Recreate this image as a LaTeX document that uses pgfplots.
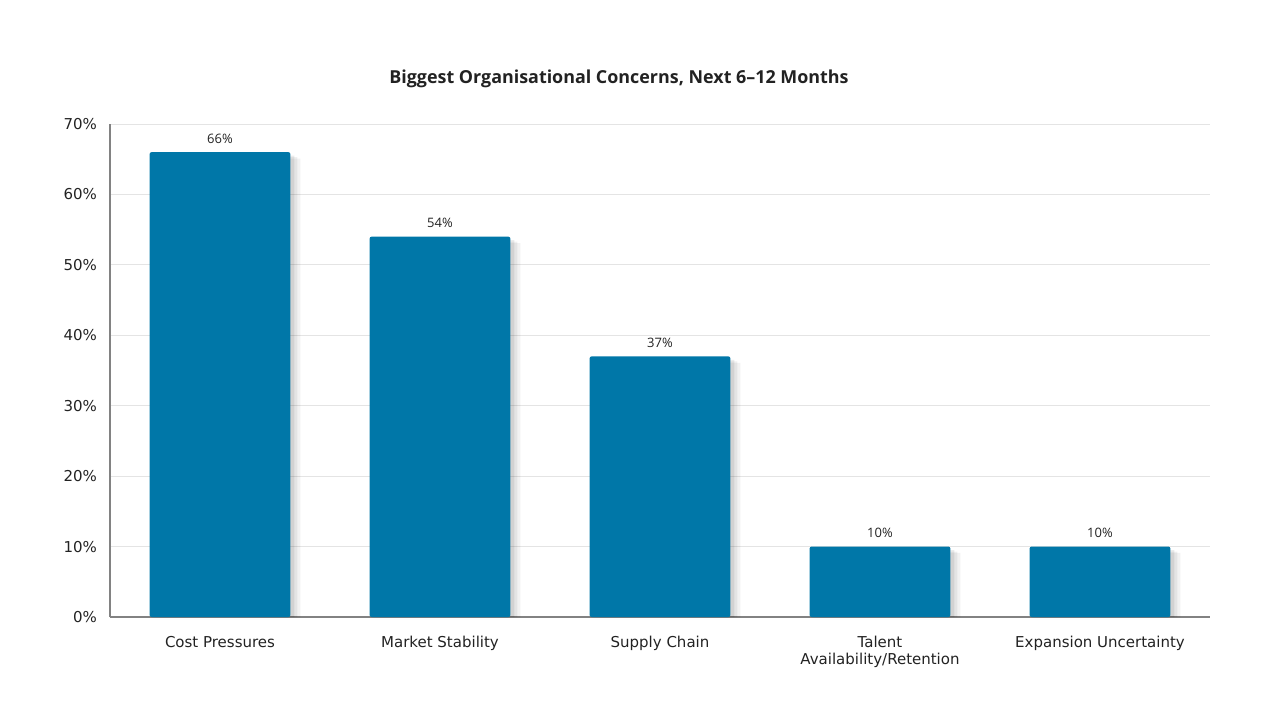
\documentclass[border=0pt]{standalone}
\usepackage{pgfplots}
\pgfplotsset{compat=1.18}
\usepackage{fontspec}
\setmainfont{DejaVu Sans}
\newfontfamily\titlefont{Open Sans}
\definecolor{barblue}{RGB}{0,119,168}
\definecolor{txt}{RGB}{34,34,34}
\definecolor{axgray}{RGB}{130,130,130}
\definecolor{gridgray}{RGB}{228,228,228}
\begin{document}
\begin{tikzpicture}
\begin{axis}[
  scale only axis,
  width=550bp, height=246.5bp,
  ymin=0, ymax=70,
  xmin=-0.5, xmax=4.5,
  ytick={0,10,...,70},
  yticklabel={\pgfmathprintnumber{\tick}\%},
  xtick={0,1,2,3,4},
  xticklabels={Cost Pressures, Market Stability, Supply Chain, Talent\\Availability/Retention, Expansion Uncertainty},
  xticklabel style={align=center, font=\fontsize{7.5bp}{8.6bp}\selectfont, text=txt},
  yticklabel style={font=\fontsize{7.5bp}{9bp}\selectfont, text=txt},
  /pgf/number format/assume math mode=true,
  major tick length=0pt,
  axis x line*=bottom, axis y line*=left,
  axis line style={axgray, line width=0.6bp},
  ymajorgrids, grid style={gridgray, line width=0.5bp},
  xticklabel shift=6bp, yticklabel shift=3bp,
  ybar, bar width=0.64,
  clip=false,
]
\addplot[fill=black, fill opacity=0.05, draw=none, bar shift=5bp]
  coordinates {(0,65.1) (1,53.1) (2,36.1) (3,9.1) (4,9.1)};
\addplot[fill=black, fill opacity=0.06, draw=none, bar shift=3.5bp]
  coordinates {(0,65.3) (1,53.3) (2,36.3) (3,9.3) (4,9.3)};
\addplot[fill=black, fill opacity=0.08, draw=none, bar shift=2bp]
  coordinates {(0,65.5) (1,53.5) (2,36.5) (3,9.5) (4,9.5)};
\addplot[fill=barblue, draw=none, rounded corners=1bp, bar shift=0pt,
  nodes near coords={\pgfmathprintnumber{\pgfplotspointmeta}\%},
  nodes near coords style={font=\titlefont\fontsize{6.5bp}{8bp}\selectfont, text=txt, yshift=1bp}]
  coordinates {(0,66) (1,54) (2,37) (3,10) (4,10)};
\node[font=\titlefont\bfseries\fontsize{8.95bp}{11bp}\selectfont, text=txt, anchor=center]
  at (rel axis cs:0.4627,1) [yshift=22.5bp] {Biggest Organisational Concerns, Next 6–12 Months};
\path (rel axis cs:0,0) coordinate (o);
\end{axis}
\useasboundingbox ([shift={(-55bp,-51.5bp)}]o) rectangle ++(640bp,360bp);
\end{tikzpicture}
\end{document}
